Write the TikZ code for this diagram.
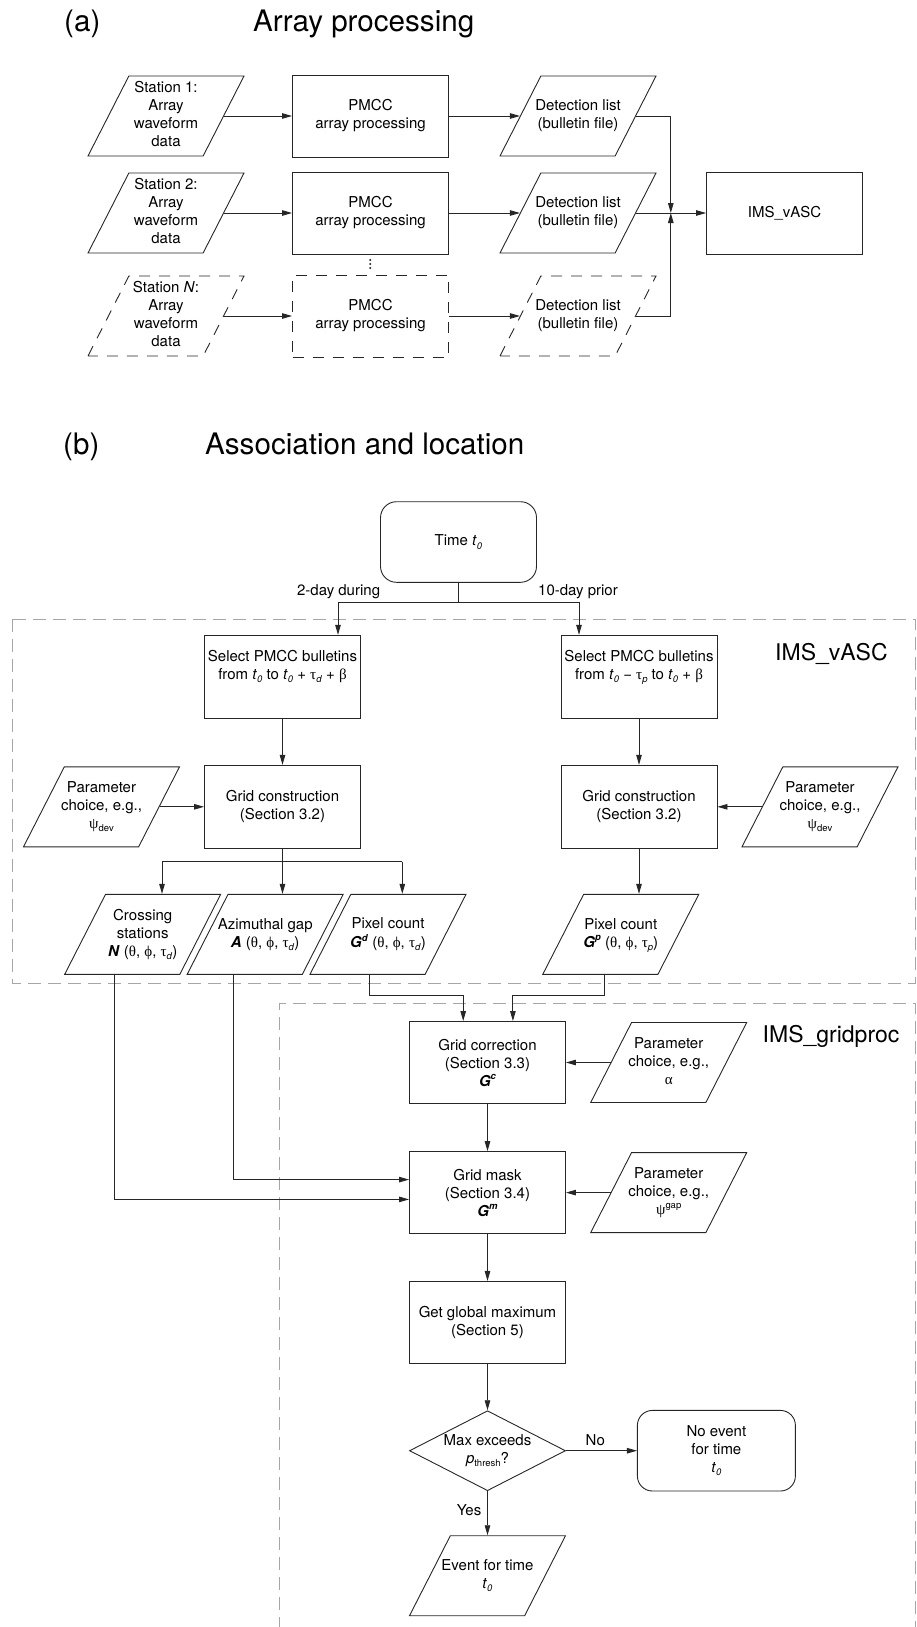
\documentclass[tikz,border=0pt]{standalone}
\usepackage{fontspec}
\setmainfont{TeX Gyre Heros}
\newfontfamily\gk{Liberation Serif}
\usetikzlibrary{shapes.geometric,arrows.meta,calc}
\newcommand\lo[1]{\raisebox{-0.22em}{\fontsize{9.5}{10}\selectfont #1}}
\newcommand\hi[1]{\raisebox{0.42em}{\fontsize{9.5}{10}\selectfont #1}}
\newcommand\tz{\textit{t}\lo{\textit{0}}}
\newcommand\gth{{\gk θ}}
\newcommand\gph{{\gk ϕ}}
\newcommand\gta{{\gk τ}}
\newcommand\gbe{{\gk β}}
\newcommand\gps{{\gk ψ}}
\newcommand\gal{{\gk α}}
\newcommand\bi[1]{\textbf{\textit{#1}}}
\newcommand\zb[1]{\makebox[0pt]{\raisebox{-3.75pt}[0pt][0pt]{\begin{tabular}{@{}c@{}}#1\end{tabular}}}}
\begin{document}
\begin{tikzpicture}[x=1pt,y=-1pt,
  font=\fontsize{15}{18}\selectfont,
  ln/.style={draw=black!85, line width=0.9pt},
  box/.style={ln, rectangle, minimum width=156pt, minimum height=82pt, inner sep=1pt, align=center},
  para/.style={ln, trapezium, trapezium left angle=61.2, trapezium right angle=118.8, trapezium stretches=true, minimum width=156pt, minimum height=80pt, inner sep=1pt},
  dsh/.style={dash pattern=on 11pt off 9pt},
  arr/.style={ln, -{Triangle[length=10pt,width=5.5pt]}},
  frame/.style={draw=black!35, line width=0.9pt, dash pattern=on 13pt off 7pt},
  ttl/.style={font=\fontsize{29.6}{34}\selectfont, anchor=base west, inner sep=0pt},
  big/.style={font=\fontsize{23}{27}\selectfont, anchor=base west, inner sep=0pt},
  lab/.style={anchor=base, inner sep=0pt},
  dot/.style={fill=black!85, circle, inner sep=0pt, minimum size=2.2pt},
]
\useasboundingbox (0,0) rectangle (917,1627);
\clip (0,0) rectangle (917,1627);

% ---------- (a) ----------
\node[ttl] (ta) at (64,31.5) {(a)};
\node[ttl] (tat) at (253,31.5) {Array processing};

\node[para] (s1) at (166,116) {\zb{Station 1:\\Array\\waveform\\data}};
\node[box] (p1) at (370.5,116) {PMCC\\array processing};
\node[para] (d1) at (578,116) {\zb{Detection list\\(bulletin file)}};

\node[para] (s2) at (166,213) {\zb{Station 2:\\Array\\waveform\\data}};
\node[box] (p2) at (370.5,213) {PMCC\\array processing};
\node[para] (d2) at (578,213) {\zb{Detection list\\(bulletin file)}};

\node[dot] (dt1) at (370.3,260) {};
\node[dot] (dt2) at (370.3,264) {};
\node[dot] (dt3) at (370.3,268) {};

\node[para, dsh] (s3) at (166,316) {\zb{Station \textit{N}:\\Array\\waveform\\data}};
\node[box, dsh] (p3) at (370.5,316) {PMCC\\array processing};
\node[para, dsh] (d3) at (578,316) {\zb{Detection list\\(bulletin file)}};

\node[box] (ims) at (784.5,213) {IMS\_vASC};
\coordinate (jn) at (670.8,213);

\draw[arr] (s1.right side) -- (p1.west);
\draw[arr] (p1.east) -- (d1.left side);
\draw[arr] (s2.right side) -- (p2.west);
\draw[arr] (p2.east) -- (d2.left side);
\draw[arr] (s3.right side) -- (p3.west);
\draw[arr] (p3.east) -- (d3.left side);
\draw[arr] (d1.right side) -| (jn);
\draw[arr] (d3.right side) -| (jn);
\draw[arr] (d2.right side) -- (ims.west);

% ---------- (b) ----------
\node[ttl] (tb) at (63,454.3) {(b)};
\node[ttl] (tbt) at (205,454.3) {Association and location};

\node[box, rounded corners=16pt, minimum height=80.6pt] (time) at (458.5,542) {Time \tz};

\draw[frame] (12.9,619.3) rectangle (915,983.8);
\node[big] (lv) at (775,660) {IMS\_vASC};

\node[box, minimum height=83pt] (sl) at (282.5,676.8) {Select PMCC bulletins\\from \tz{} to \tz{} + \gta\lo{\textit{d}} + \gbe\\[6pt]};
\node[box, minimum height=83pt] (sr) at (639,676.8) {Select PMCC bulletins\\from \tz{} − \gta\lo{\textit{p}} to \tz{} + \gbe\\[6pt]};

\coordinate (tj) at (458.5,602);
\coordinate (tl) at (338,602);
\coordinate (tr) at (579,602);
\draw[ln] (time.south) -- (tj);
\draw[ln] (tl) -- (tr);
\draw[arr] (tl) -- (tl |- sl.north);
\draw[arr] (tr) -- (tr |- sr.north);
\node[lab] (l2d) at (338.6,595) {2-day during};
\node[lab] (l10d) at (578,595) {10-day prior};

\node[box, minimum height=83pt] (gl) at (282.5,806.8) {Grid construction\\(Section 3.2)};
\node[box, minimum height=83pt] (gr) at (639,806.8) {Grid construction\\(Section 3.2)};
\node[para] (pl) at (101.5,806.8) {\zb{Parameter\\choice, e.g.,\\\gps\lo{dev}}};
\node[para] (pr) at (820,806.8) {\zb{Parameter\\choice, e.g.,\\\gps\lo{dev}}};
\draw[arr] (sl) -- (gl);
\draw[arr] (sr) -- (gr);
\draw[arr] (pl.right side) -- (gl.west);
\draw[arr] (pr.left side) -- (gr.east);

\node[para] (cs) at (142.7,934.3) {\zb{Crossing\\stations\\\bi{N} (\gth, \gph, \gta\lo{\textit{d}})}};
\node[para] (az) at (265.2,934.3) {\zb{Azimuthal gap\\\bi{A} (\gth, \gph, \gta\lo{\textit{d}})}};
\node[para] (pd) at (388,934.3) {\zb{Pixel count\\\bi{G}\hi{\bi{d}} (\gth, \gph, \gta\lo{\textit{d}})}};
\node[para] (pp) at (620.8,934.3) {\zb{Pixel count\\\bi{G}\hi{\bi{p}} (\gth, \gph, \gta\lo{\textit{p}})}};

\coordinate (bl) at (162,861.7);
\coordinate (br) at (402.3,861.7);
\draw[ln] (bl) -- (br);
\draw[arr] (gl.south) -- (gl.south |- az.north);
\draw[arr] (bl) -- (bl |- cs.north);
\draw[arr] (br) -- (br |- pd.north);
\draw[arr] (gr.south) -- (gr.south |- pp.north);

% IMS_gridproc
\draw[frame] (279,1650) -- (279,1003.5) -- (915,1003.5) -- (915,1650);
\node[big] (lg) at (762.5,1042) {IMS\_gridproc};

\node[box] (gc) at (487.5,1062.5) {Grid correction\\(Section 3.3)\\\bi{G}\hi{\bi{c}}};
\node[para] (pa) at (668.7,1062.5) {\zb{Parameter\\choice, e.g.,\\\gal}};
\draw[arr] (pa.left side) -- (gc.east);
\draw[arr] ([xshift=-18.4pt]pd.south) -- ++(0,20.6) -| ([xshift=-24.3pt]gc.north);
\draw[arr] ([xshift=-16.8pt]pp.south) -- ++(0,20.6) -| ([xshift=25.4pt]gc.north);

\node[box] (gm) at (487.5,1192.6) {Grid mask\\(Section 3.4)\\\bi{G}\hi{\bi{m}}};
\node[para] (pg) at (668.7,1192.6) {\zb{Parameter\\choice, e.g.,\\\gps\hi{gap}}};
\draw[arr] (gc) -- (gm);
\draw[arr] (pg.left side) -- (gm.east);
\draw[arr] ([xshift=-32pt]az.south) |- ([yshift=13pt]gm.west);
\draw[arr] ([xshift=-28pt]cs.south) |- ([yshift=-6.8pt]gm.west);

\node[box] (gg) at (487.5,1322.4) {Get global maximum\\(Section 5)};
\draw[arr] (gm) -- (gg);

\node[diamond, ln, minimum width=156pt, minimum height=80pt, inner sep=0pt, aspect=1.95, align=center] (dm) at (487.5,1450.7) {Max exceeds\\\textit{p}\lo{thresh}?};
\draw[arr] (gg) -- (dm);

\node[box, rounded corners=15pt, minimum width=158pt, minimum height=80.6pt] (ne) at (716.4,1450.7) {No event\\for time\\\tz};
\draw[arr] (dm.east) -- (ne.west);
\node[lab] (lno) at (595.3,1445) {No};

\node[para] (ev) at (487.5,1575.7) {\zb{Event for time\\\tz}};
\draw[arr] (dm.south) -- (dm.south |- ev.north);
\node[lab] (lyes) at (469,1515) {Yes};
\end{tikzpicture}
\end{document}
